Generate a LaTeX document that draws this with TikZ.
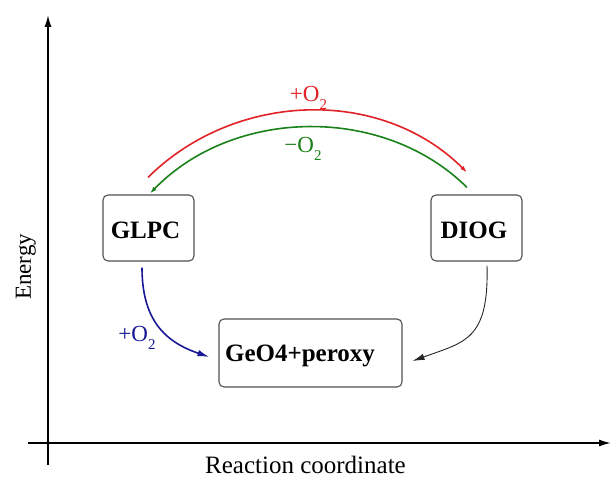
\documentclass[tikz,border=0pt]{standalone}
\usepackage{fontspec}
\setmainfont{Liberation Serif}
\usetikzlibrary{arrows.meta}
\definecolor{myred}{RGB}{225,35,40}
\definecolor{mygreen}{RGB}{25,130,25}
\definecolor{myblue}{RGB}{25,25,150}
\definecolor{boxline}{RGB}{80,80,80}
\newcommand\myss[1]{\raisebox{-0.32em}{\fontsize{15}{15}\selectfont #1}}
\begin{document}
\begin{tikzpicture}[x=1pt,y=1pt,
  statebox/.style={draw=boxline, line width=1.1pt, rounded corners=5pt, inner sep=0pt},
  boxtext/.style={font=\fontsize{25}{25}\selectfont\bfseries, anchor=base, inner sep=0pt},
  axislabel/.style={font=\fontsize{25}{25}\selectfont, inner sep=0pt},
  rxlabel/.style={font=\fontsize{23}{23}\selectfont, anchor=base, inner sep=0pt},
  axisarrow/.style={line width=1.6pt, -{Latex[length=12pt,width=7pt]}},
  bigtip/.style={-{Latex[length=12pt,width=6.5pt]}},
  smalltip/.style={-{Latex[length=7pt,width=4.5pt]}}]
\useasboundingbox (0,0) rectangle (611,479);
% axes
\coordinate (yb) at (48,14);
\coordinate (yt) at (48,464);
\coordinate (xl) at (28,36);
\coordinate (xr) at (611,36);
\draw[axisarrow] (yb) -- (yt);
\draw[axisarrow] (xl) -- (xr);
\node[axislabel, rotate=90, anchor=base, font=\fontsize{23}{23}\selectfont] (energy) at (31,212) {Energy};
\node[axislabel, anchor=base] (rc) at (305.5,5.5) {Reaction coordinate};
% boxes
\node[statebox, minimum width=91pt, minimum height=66pt] (glpc) at (148.5,251) {};
\node[statebox, minimum width=91pt, minimum height=66pt] (diog) at (476.5,251) {};
\node[statebox, minimum width=183pt, minimum height=68pt] (geo) at (310.5,126) {};
\node[boxtext] (glpct) at (145.5,240) {GLPC};
\node[boxtext] (diogt) at (474,240) {DIOG};
\node[boxtext] (geot) at (300,117) {GeO4+peroxy};
% top arcs
\draw[myred, line width=1.6pt, smalltip] ([xshift=-0.5pt,yshift=17pt]glpc.north)
  .. controls (234,387) and (380,393) .. ([xshift=-9.5pt,yshift=22pt]diog.north);
\draw[mygreen, line width=1.6pt, smalltip] ([xshift=-9.5pt,yshift=7pt]diog.north)
  .. controls (384,374) and (234,372) .. ([xshift=1.5pt,yshift=1pt]glpc.north);
\node[rxlabel, text=myred] (lred) at (308.5,377) {+O\myss{2}};
\node[rxlabel, text=mygreen] (lgreen) at (303,326) {−O\myss{2}};
% lower arrows
\draw[myblue, line width=1.6pt, bigtip] ([xshift=-6.5pt,yshift=-6pt]glpc.south)
  .. controls (142,159) and (165,137) .. ([xshift=-9pt,yshift=-4pt]geo.west);
\draw[black!85, line width=0.9pt, bigtip] ([xshift=10.5pt,yshift=-4pt]diog.south)
  .. controls (489,139) and (465,137) .. ([xshift=10pt,yshift=-8pt]geo.east);
\node[rxlabel, text=myblue] (lblue) at (137,137) {+O\myss{2}};
\end{tikzpicture}
\end{document}
